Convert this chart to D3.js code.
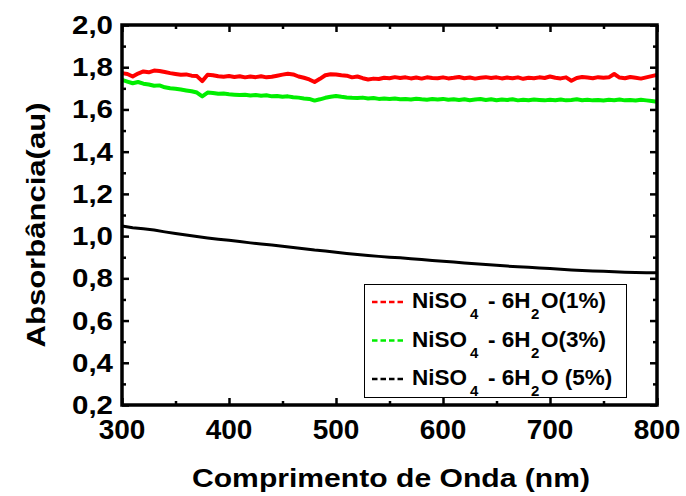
<!DOCTYPE html>
<html>
<head>
<meta charset="utf-8">
<script src="https://cdn.jsdelivr.net/npm/d3@7"></script>
<style>
  body { margin: 0; background: #fff; }
  svg { display: block; font-family: "Liberation Sans", Arial, sans-serif; }
</style>
</head>
<body>
<div id="chart"></div>
<script>
// wavelength grid for the noisy series (5 nm) and the smooth one (10 nm)
const lambda5 = d3.range(300, 801, 5)
const lambda10 = d3.range(300, 801, 10)

// NiSO4 - 6H2O (1%)
const abs1 = [
  1.772, 1.768, 1.756, 1.770, 1.780, 1.776, 1.784, 1.782, 1.777, 1.772,
  1.768, 1.764, 1.766, 1.760, 1.758, 1.734, 1.764, 1.762, 1.757, 1.755,
  1.758, 1.754, 1.757, 1.752, 1.756, 1.753, 1.757, 1.752, 1.755, 1.760,
  1.765, 1.769, 1.766, 1.756, 1.750, 1.742, 1.730, 1.745, 1.762, 1.767,
  1.766, 1.762, 1.760, 1.752, 1.756, 1.748, 1.742, 1.746, 1.744, 1.750,
  1.748, 1.753, 1.749, 1.752, 1.747, 1.751, 1.746, 1.752, 1.749, 1.748,
  1.752, 1.747, 1.750, 1.754, 1.748, 1.751, 1.746, 1.750, 1.753, 1.749,
  1.752, 1.747, 1.751, 1.748, 1.752, 1.745, 1.750, 1.748, 1.752, 1.749,
  1.756, 1.750, 1.747, 1.752, 1.736, 1.749, 1.754, 1.751, 1.748, 1.753,
  1.750, 1.752, 1.768, 1.751, 1.748, 1.754, 1.750, 1.746, 1.752, 1.758,
  1.764
]

// NiSO4 - 6H2O (3%)
const abs3 = [
  1.740, 1.732, 1.724, 1.730, 1.722, 1.718, 1.712, 1.714, 1.705, 1.700,
  1.698, 1.694, 1.690, 1.686, 1.680, 1.662, 1.680, 1.678, 1.674, 1.675,
  1.672, 1.670, 1.668, 1.670, 1.666, 1.668, 1.665, 1.667, 1.662, 1.664,
  1.660, 1.662, 1.658, 1.656, 1.652, 1.650, 1.642, 1.648, 1.655, 1.660,
  1.664, 1.660, 1.657, 1.655, 1.654, 1.656, 1.652, 1.654, 1.650, 1.652,
  1.649, 1.652, 1.648, 1.650, 1.647, 1.651, 1.648, 1.646, 1.649, 1.647,
  1.650, 1.646, 1.648, 1.645, 1.648, 1.644, 1.647, 1.649, 1.645, 1.648,
  1.644, 1.647, 1.645, 1.648, 1.643, 1.646, 1.644, 1.647, 1.645, 1.643,
  1.646, 1.644, 1.647, 1.643, 1.645, 1.648, 1.644, 1.646, 1.643, 1.645,
  1.642, 1.646, 1.644, 1.647, 1.643, 1.645, 1.642, 1.646, 1.643, 1.640,
  1.636
]

// NiSO4 - 6H2O (5%)
const abs5 = [
  1.048, 1.040, 1.035, 1.029, 1.020, 1.012, 1.005, 0.998, 0.991, 0.985,
  0.980, 0.974, 0.968, 0.963, 0.958, 0.952, 0.946, 0.940, 0.934, 0.930,
  0.924, 0.918, 0.913, 0.908, 0.904, 0.900, 0.897, 0.893, 0.889, 0.885,
  0.881, 0.877, 0.873, 0.869, 0.866, 0.862, 0.858, 0.855, 0.852, 0.849,
  0.846, 0.843, 0.840, 0.837, 0.835, 0.833, 0.831, 0.829, 0.828, 0.827,
  0.826
]

const xTicks = [300, 400, 500, 600, 700, 800]
const xMinor = [350, 450, 550, 650, 750]
const yTicks = [0.2, 0.4, 0.6, 0.8, 1.0, 1.2, 1.4, 1.6, 1.8, 2.0]
const yMinor = [0.3, 0.5, 0.7, 0.9, 1.1, 1.3, 1.5, 1.7, 1.9]
const yLabels = ['0,2', '0,4', '0,6', '0,8', '1,0', '1,2', '1,4', '1,6', '1,8', '2,0']

const series = [
  {pct: '(1%)', color: '#ff0000', x: lambda5, y: abs1, w: 4},
  {pct: '(3%)', color: '#00ee00', x: lambda5, y: abs3, w: 4},
  {pct: ' (5%)', color: '#000000', x: lambda10, y: abs5, w: 3}
]

const width = 686, height = 496
const mLeft = 122, mRight = 657, mTop = 25, mBottom = 405

const svg = d3.select('#chart').append('svg')
  .attr('width', width)
  .attr('height', height)

const x = d3.scaleLinear().domain([300, 800]).range([mLeft, mRight])
const y = d3.scaleLinear().domain([0.2, 2.0]).range([mBottom, mTop])

// curves
const line = d3.line()
  .x(d => x(d[0]))
  .y(d => y(d[1]))

series.forEach(s => {
  svg.append('path')
    .datum(s.x.map((l, i) => [l, s.y[i]]))
    .attr('d', line)
    .attr('fill', 'none')
    .attr('stroke', s.color)
    .attr('stroke-width', s.w)
    .attr('stroke-linejoin', 'round')
})

// inward ticks on all four sides
function ticks(axis, pos, values, size) {
  const g = svg.append('g')
    .attr('transform', pos)
    .call(axis.tickValues(values).tickSize(size).tickFormat(''))
  g.select('.domain').remove()
  g.selectAll('line').attr('stroke', '#000').attr('stroke-width', 2.5)
  return g
}
ticks(d3.axisBottom(x), `translate(0,${mBottom})`, xTicks, -7)
ticks(d3.axisBottom(x), `translate(0,${mBottom})`, xMinor, -4)
ticks(d3.axisTop(x), `translate(0,${mTop})`, xTicks, -7)
ticks(d3.axisTop(x), `translate(0,${mTop})`, xMinor, -4)
ticks(d3.axisLeft(y), `translate(${mLeft},0)`, yTicks, -7)
ticks(d3.axisLeft(y), `translate(${mLeft},0)`, yMinor, -4)
ticks(d3.axisRight(y), `translate(${mRight},0)`, yTicks, -7)
ticks(d3.axisRight(y), `translate(${mRight},0)`, yMinor, -4)

// frame
svg.append('rect')
  .attr('x', mLeft).attr('y', mTop)
  .attr('width', mRight - mLeft).attr('height', mBottom - mTop)
  .attr('fill', 'none')
  .attr('stroke', '#000')
  .attr('stroke-width', 3.5)

// tick labels
svg.append('g').selectAll('text').data(xTicks).enter().append('text')
  .attr('x', d => x(d))
  .attr('y', 439)
  .attr('text-anchor', 'middle')
  .attr('font-size', 28)
  .attr('font-weight', 'bold')
  .text(d => d)

svg.append('g').selectAll('text').data(yTicks).enter().append('text')
  .attr('x', 113)
  .attr('y', d => y(d) + 9)
  .attr('text-anchor', 'end')
  .attr('font-size', 25)
  .attr('font-weight', 'bold')
  .attr('textLength', 41)
  .attr('lengthAdjust', 'spacingAndGlyphs')
  .text((d, i) => yLabels[i])

// axis titles
svg.append('text')
  .attr('x', 391)
  .attr('y', 487)
  .attr('text-anchor', 'middle')
  .attr('font-size', 26)
  .attr('font-weight', 'bold')
  .attr('textLength', 398)
  .attr('lengthAdjust', 'spacingAndGlyphs')
  .text('Comprimento de Onda (nm)')

svg.append('text')
  .attr('transform', 'translate(45,225) rotate(-90)')
  .attr('text-anchor', 'middle')
  .attr('font-size', 26)
  .attr('font-weight', 'bold')
  .attr('textLength', 245)
  .attr('lengthAdjust', 'spacingAndGlyphs')
  .text('Absorbância(au)')

// legend
const legend = svg.append('g')
legend.append('rect')
  .attr('x', 364.5).attr('y', 284.5)
  .attr('width', 262).attr('height', 113)
  .attr('fill', '#fff')
  .attr('stroke', '#000')
  .attr('stroke-width', 1)

series.forEach((s, i) => {
  const base = 308 + i * 38.5
  legend.append('line')
    .attr('x1', 372).attr('x2', 405)
    .attr('y1', base - 6).attr('y2', base - 6)
    .attr('stroke', s.color)
    .attr('stroke-width', 2.5)
    .attr('stroke-dasharray', '5.5,3')
  const t = legend.append('text')
    .attr('y', base)
    .attr('font-size', 22.5)
    .attr('font-weight', 'bold')
  const part = (txt, px, dy, fs) => {
    const sp = t.append('tspan').attr('x', px).attr('dy', dy).text(txt)
    if (fs) sp.attr('font-size', fs)
  }
  part('NiSO', 412, 0)
  part('4', 470, 11, 15)
  part('- 6H', 488, -11)
  part('2', 531, 11, 15)
  part('O' + s.pct, 541, -11)
})
</script>
</body>
</html>
